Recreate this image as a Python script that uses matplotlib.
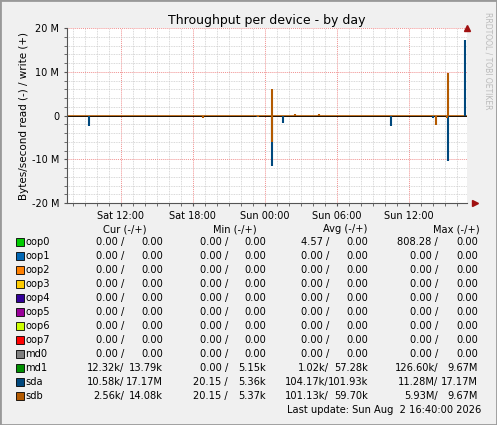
import matplotlib
matplotlib.use("Agg")
import matplotlib.pyplot as plt
import numpy as np

W, H = 497, 425
devices = ["oop0","oop1","oop2","oop3","oop4","oop5","oop6","oop7","md0","md1","sda","sdb"]
colors = ["#00CC00","#0066B3","#FF8000","#FFCC00","#330099","#990099","#CCFF00","#FF0000",
          "#808080","#008F00","#00487D","#B35A00"]
cur = [("0.00 /","0.00")]*9 + [("12.32k/","13.79k"),("10.58k/","17.17M"),("2.56k/","14.08k")]
mins = [("0.00 /","0.00")]*9 + [("0.00 /","5.15k"),("20.15 /","5.36k"),("20.15 /","5.37k")]
avgs = [("4.57 /","0.00")] + [("0.00 /","0.00")]*8 + [("1.02k/","57.28k"),("104.17k/","101.93k"),("101.13k/","59.70k")]
maxs = [("808.28 /","0.00")] + [("0.00 /","0.00")]*8 + [("126.60k/","9.67M"),("11.28M/","17.17M"),("5.93M/","9.67M")]

# spikes: hours since Sat 00:00, value in M bytes/s (negative = read)
sda_t = [9.33, 23.3, 24.6, 25.5, 34.5, 38.0, 39.25, 40.7]
sda_v = [-2.5, -0.4, -11.5, -1.8, -2.3, -0.5, -10.3, 17.2]
sdb_t = [18.8, 23.4, 24.6, 24.6, 26.5, 28.5, 38.25, 39.25, 39.15]
sdb_v = [-0.6, -0.4, 6.0, -6.0, 0.4, 0.4, -2.1, 9.8, -0.5]
xticks = [12, 18, 24, 30, 36]
xlabels = ["Sat 12:00", "Sat 18:00", "Sun 00:00", "Sun 06:00", "Sun 12:00"]

fig = plt.figure(figsize=(W/100, H/100), dpi=100, facecolor="#F0F0F0")
def fx(px): return px / W
def fy(py): return 1 - py / H
ax = fig.add_axes([fx(67), fy(203), fx(467) - fx(67), fy(28) - fy(203)])
ax.set_facecolor("white")
ax.set_xlim(7.5, 40.85)
ax.set_ylim(-20, 20)
ax.set_xticks(np.arange(8, 41, 1), minor=True)
ax.set_yticks(np.arange(-20, 21, 2), minor=True)
ax.set_xticks(xticks)
ax.set_xticklabels(xlabels)
ax.set_yticks([-20, -10, 0, 10, 20])
ax.set_yticklabels(["-20 M", "-10 M", "0", "10 M", "20 M"])
ax.grid(which="minor", color="#CCCCCC", linestyle=(0, (1, 1)), linewidth=0.6)
ax.grid(which="major", color="#F09090", linestyle=(0, (1, 1)), linewidth=0.7)
ax.tick_params(which="both", length=2, labelsize=7, colors="#555555", labelcolor="black")
for s in ["top", "right"]:
    ax.spines[s].set_visible(False)
for s in ["left", "bottom"]:
    ax.spines[s].set_color("#555555")
ax.axhline(0, color="#B35A00", lw=1.2)
ax.axhline(0, color="black", lw=0.6)
ax.vlines(sda_t, 0, sda_v, color=colors[10], lw=1.5)
ax.vlines(sdb_t, 0, sdb_v, color=colors[11], lw=1.5)
ax.set_ylabel("Bytes/second read (-) / write (+)", fontsize=7.5, labelpad=2)
ax.set_title("Throughput per device - by day", fontsize=9, pad=3)
ax.plot([1.0], [1.0], transform=ax.transAxes, marker="^", color="#A01010", ms=4, clip_on=False)
ax.plot([1.02], [0.0], transform=ax.transAxes, marker=">", color="#A01010", ms=4, clip_on=False)
fig.text(fx(488), fy(12), "RRDTOOL / TOBI OETIKER", rotation=270, fontsize=5.5,
         color="#BBBBBB", ha="center", va="top")

fs = 7.1
for name, cx in [("Cur (-/+)", 125), ("Min (-/+)", 235), ("Avg (-/+)", 345), ("Max (-/+)", 456)]:
    fig.text(fx(cx), fy(229), name, ha="center", va="center", fontsize=fs)
cols = [(cur, 124, 163), (mins, 228, 266), (avgs, 329, 368), (maxs, 438, 478)]
for i, d in enumerate(devices):
    y = fy(242 + i * 14)
    fig.patches.append(plt.Rectangle((fx(16), y - 4/H), 8/W, 8/H, transform=fig.transFigure,
                                     facecolor=colors[i], edgecolor="black", lw=0.6))
    fig.text(fx(25), y, d, ha="left", va="center", fontsize=fs)
    for data, x1, x2 in cols:
        fig.text(fx(x1), y, data[i][0], ha="right", va="center", fontsize=fs)
        fig.text(fx(x2), y, data[i][1], ha="right", va="center", fontsize=fs)
fig.text(fx(481), fy(410), "Last update: Sun Aug  2 16:40:00 2026", ha="right", va="center", fontsize=fs)
fig.patches.append(plt.Rectangle((0, 0), 1, 1, transform=fig.transFigure, fill=False,
                                 edgecolor="#999999", lw=2))
fig.savefig("out.png", dpi=100, facecolor=fig.get_facecolor())
